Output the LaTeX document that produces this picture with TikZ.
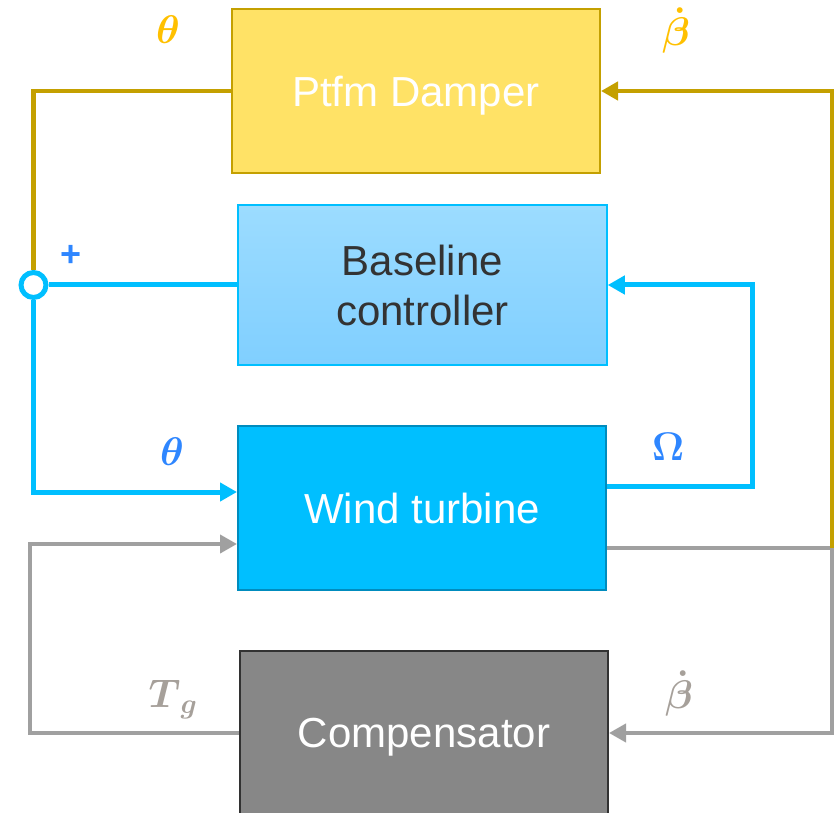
\RequirePackage{fix-cm}
\documentclass[tikz,border=0pt]{standalone}
\usepackage{amsmath}
\usepackage{amssymb}
\usepackage{fontspec}
\setmainfont{Liberation Sans}
\usetikzlibrary{arrows.meta}

\definecolor{ptfmgold}{RGB}{196,160,0}
\definecolor{ptfmfill}{RGB}{255,226,102}
\definecolor{lblgold}{RGB}{255,192,0}
\definecolor{wtblue}{RGB}{0,191,255}
\definecolor{wtedge}{RGB}{0,140,190}
\definecolor{lblblue}{RGB}{46,134,255}
\definecolor{bctop}{RGB}{156,220,255}
\definecolor{bcbot}{RGB}{128,207,255}
\definecolor{cmpfill}{RGB}{135,135,135}
\definecolor{cmpedge}{RGB}{50,50,50}
\definecolor{fbgray}{RGB}{160,160,160}
\definecolor{lblgray}{RGB}{166,160,154}
\definecolor{txtdark}{RGB}{51,51,51}

\tikzset{
  block/.style={minimum width=368pt, minimum height=164pt, inner sep=0pt,
    align=center, font=\fontsize{42}{50}\selectfont, line width=2pt},
  goldline/.style={ptfmgold, line width=4.5pt},
  blueline/.style={wtblue, line width=5pt},
  grayline/.style={fbgray, line width=4pt},
  arrowin/.style={-{Triangle[length=17pt,width=18pt]}},
  lbl/.style={font=\fontsize{40}{44}\selectfont, inner sep=0pt}
}

\begin{document}
\begin{tikzpicture}[x=1pt,y=-1pt]
	\useasboundingbox (0,0) rectangle (836,813);
	\clip (0,0) rectangle (836,813);
	\node[block, text depth=0pt, draw=ptfmgold, fill=ptfmfill, text=white] (damper) at (416,91) {Ptfm Damper};
	\node[block, minimum width=369pt, minimum height=160pt, draw=wtblue, line width=1.5pt,
		top color=bctop, bottom color=bcbot, text=txtdark] (base) at (422.5,285) {Baseline\\controller};
	\node[block, draw=wtedge, fill=wtblue, text=white] (turb) at (422,508) {Wind turbine};
	\node[block, text depth=0pt, draw=cmpedge, fill=cmpfill, text=white] (comp) at (424,733) {Compensator};
	\node[circle, draw=wtblue, fill=white, line width=5pt, minimum size=25pt, inner sep=0pt] (sum) at (33.5,285) {};
	\coordinate (tap) at (832,548);
	\coordinate (goldtop) at (832,91);
	\coordinate (omegacorner) at (752,285);
	\coordinate (tgcorner) at (30,544);
	\draw[goldline] (damper.west) -| (sum.north);
	\draw[blueline] (sum.east) -- (base.west);
	\draw[blueline, arrowin] (sum.south) |- ([yshift=16pt]turb.west);
	\draw[blueline, arrowin] ([yshift=22pt]turb.east) -| (omegacorner) -- (base.east);
	\draw[grayline, arrowin] ([yshift=-40pt]turb.east) -- (tap) |- (comp.east);
	\draw[goldline, arrowin] (tap) -- (goldtop) -- (damper.east);
	\draw[grayline, arrowin] (comp.west) -| (tgcorner) -- ([yshift=-36pt]turb.west);
	\node[lbl, text=lblgold] (thetaout) at (168,30) {$\boldsymbol{\theta}$};
	\node[lbl, text=lblgold] (betadotin) at (676,31) {$\boldsymbol{\dot{\beta}}$};
	\node[lbl, text=lblblue, font=\fontsize{36}{38}\selectfont\bfseries] (plus) at (71,256) {+};
	\node[lbl, text=lblblue] (thetain) at (172,452) {$\boldsymbol{\theta}$};
	\node[lbl, text=lblblue] (omega) at (668,447) {$\boldsymbol{\Omega}$};
	\node[lbl, text=lblgray] (torque) at (173,699) {$\boldsymbol{T}_{\boldsymbol{g}}$};
	\node[lbl, text=lblgray] (betadotfb) at (679,693) {$\boldsymbol{\dot{\beta}}$};
\end{tikzpicture}
\end{document}
